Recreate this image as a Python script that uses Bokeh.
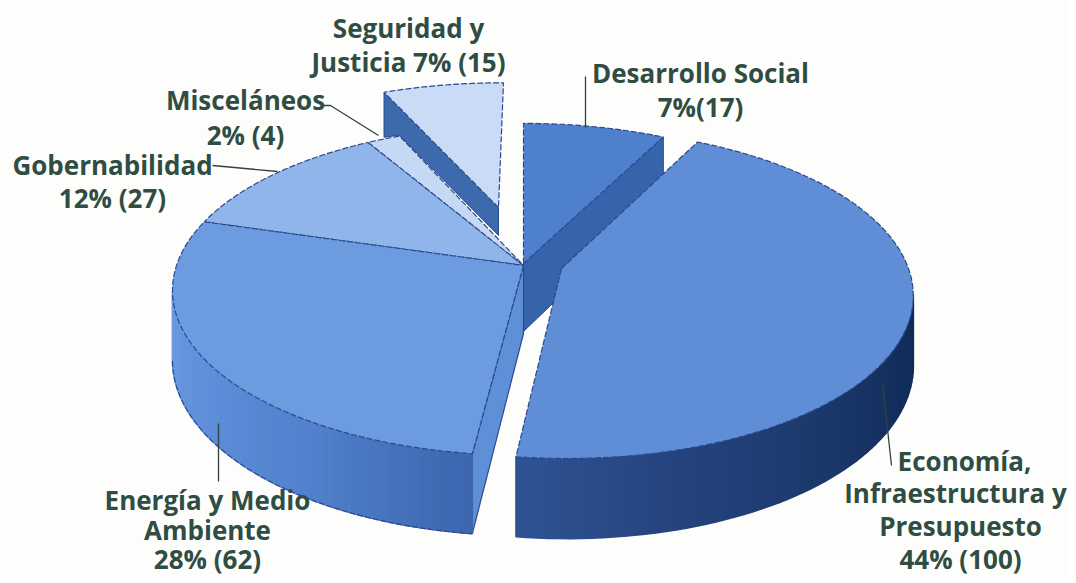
from bokeh.plotting import figure
from bokeh.models import Range1d
from bokeh.core.properties import value
from bokeh.embed import file_html
from bokeh.resources import INLINE
import math

# ---- data ----
categories = ["Desarrollo Social", "Economía, Infraestructura y Presupuesto",
              "Energía y Medio Ambiente", "Gobernabilidad", "Misceláneos",
              "Seguridad y Justicia"]
counts = [17, 100, 62, 27, 4, 15]
percent_labels = ["7%(17)", "44% (100)", "28% (62)", "12% (27)", "2% (4)", "7% (15)"]

# ---- pie projection (screen pixels) ----
CX, CY, RX, RY, K, DEPTH = 523, 265, 347, 161.3, 0.151, 68
TOTAL = sum(counts)

def angles():
    out, a = [], 0.0
    for c in counts:
        b = a + c / TOTAL * 360
        out.append((a, b))
        a = b
    return out

ANG = angles()

def rim(t, dx=0, dy=0, scale=1.0, skew=0.0, sx=None):
    r = math.radians(t)
    u, v = math.sin(r), math.cos(r)
    d = 1 + K * v
    x0 = RX * u / d * (scale if sx is None else sx)
    y0 = -RY * v / d * scale
    return CX + dx + x0 + skew * y0, CY + dy + y0

def depth_at(t, f=1.0):
    return f * DEPTH / (1 + K * math.cos(math.radians(t)))

def arc(a, b, **kw):
    n = max(2, int(abs(b - a) / 1.5))
    return [rim(a + (b - a) * i / n, **kw) for i in range(n + 1)]

def lerp(c1, c2, f):
    a = [int(c1[i:i+2], 16) for i in (1, 3, 5)]
    b = [int(c2[i:i+2], 16) for i in (1, 3, 5)]
    return "#%02x%02x%02x" % tuple(round(x + (y - x) * f) for x, y in zip(a, b))

def ramp(stops, f):
    f = min(max(f, 0), 1) * (len(stops) - 1)
    i = min(int(f), len(stops) - 2)
    return lerp(stops[i], stops[i + 1], f - i)

BG = "#fdfdfc"
EDGE = "#2b4a8e"
p = figure(width=1068, height=575, x_range=Range1d(0, 1068), y_range=Range1d(575, 0),
           output_backend="svg", toolbar_location=None, min_border=0,
           background_fill_color=BG, border_fill_color=BG, outline_line_color=None)
p.axis.visible = False
p.grid.visible = False

def top(i, color, **kw):
    a, b = ANG[i]
    dx, dy = kw.get("dx", 0), kw.get("dy", 0)
    pts = [(CX + dx, CY + dy)] + arc(a, b, **kw)
    p.patch([q[0] for q in pts], [q[1] for q in pts], fill_color=color,
            line_color=EDGE, line_width=1.2, line_dash="6 2")

def poly(pts, color, line=None, lw=1.0):
    p.patch([q[0] for q in pts], [q[1] for q in pts], fill_color=color,
            line_color=line or color, line_width=lw)

def wall(a, b, stops, **kw):
    n = int(abs(b - a) / 1.5)
    for i in range(n):
        t0, t1 = a + (b - a) * i / n, a + (b - a) * (i + 1) / n
        x0, y0 = rim(t0, **kw)
        x1, y1 = rim(t1, **kw)
        c = ramp(stops, (i + .5) / n)
        poly([(x0, y0), (x1, y1), (x1, y1 + depth_at(t1)), (x0, y0 + depth_at(t0))], c, c, 1.6)

DES, ECO, ENE, GOB, MIS, SEG = range(6)

# Seguridad: lifted and pulled out
seg = dict(dx=-25, dy=-58, scale=0.89, sx=0.96, skew=-0.04)
c0 = rim(ANG[SEG][0], **seg)
apex = (CX + seg["dx"], CY + seg["dy"])
d = depth_at(90, 0.41)
poly([c0, apex, (apex[0], apex[1] + d), (c0[0] + 15, c0[1] + d + 15), (c0[0], c0[1] + 45)], "#3d69ad", "#264a8c", 1)
top(SEG, "#c9dbf6", **seg)

# Desarrollo: side face, then top
c1 = rim(ANG[DES][1], dy=-2)
poly([(CX, CY - 2), c1, (c1[0], c1[1] + depth_at(ANG[DES][1])), (CX, CY - 2 + DEPTH)], "#3763aa", "#264a8c", 1)
top(DES, "#4f80cd", dy=-2)

top(GOB, "#8fb5ea")
top(MIS, "#c6d9f4")

# Energia: radial end face, outer wall, top
c2 = rim(ANG[ENE][0])
poly([(CX, CY), c2, (c2[0], c2[1] + depth_at(ANG[ENE][0])), (CX, CY + DEPTH)], "#5f8fd6", EDGE, 1.2)
wall(261, ANG[ENE][0], ["#6d9ce2", "#5f8fda", "#5280cc", "#3c66ae"])
b = arc(261, ANG[ENE][0])
p.line([q[0] for q in b], [q[1] + depth_at(261 + (ANG[ENE][0] - 261) * i / (len(b) - 1)) for i, q in enumerate(b)],
       line_color=EDGE, line_width=1.2, line_dash="6 2")
top(ENE, "#6c9cdf")

# Economia: outer wall, top
eco = dict(dx=38, dy=3, skew=0.03)
wall(99, ANG[ECO][1], ["#0e2a55", "#14305f", "#1d3a6e", "#25447f", "#2f5293"], **eco)
top(ECO, "#5f8ed6", **eco)

# leader lines
LEAD = "#33423f"
for xs, ys in [([585, 585], [76, 127]), ([323, 330, 378], [105, 105, 135]),
               ([212, 277], [165, 171]), ([882, 891], [383, 465]), ([218, 218], [423, 481])]:
    p.line(xs, ys, line_color=LEAD, line_width=1.3)

# labels
label_lines = [
    ("Seguridad y", 408, 27), ("Justicia " + percent_labels[SEG], 408, 61),
    ("Desarrollo Social", 700, 72), (percent_labels[DES], 700, 106),
    ("Misceláneos", 245, 99), (percent_labels[MIS], 245, 134),
    ("Gobernabilidad", 112, 164), (percent_labels[GOB], 112, 197),
    ("Energía y Medio", 207, 499), ("Ambiente", 207, 529), (percent_labels[ENE], 207, 558),
    ("Economía,", 964, 460), ("Infraestructura y", 955, 492), ("Presupuesto", 960, 525),
    (percent_labels[ECO], 960, 558),
]
p.text([l[1] for l in label_lines], [l[2] for l in label_lines], text=[l[0] for l in label_lines],
       text_font=value("Open Sans"), text_font_style="bold", text_font_size="26px",
       text_color="#2f4d42", text_align="center", text_baseline="middle")

open("out.html", "w").write(file_html(p, INLINE))
